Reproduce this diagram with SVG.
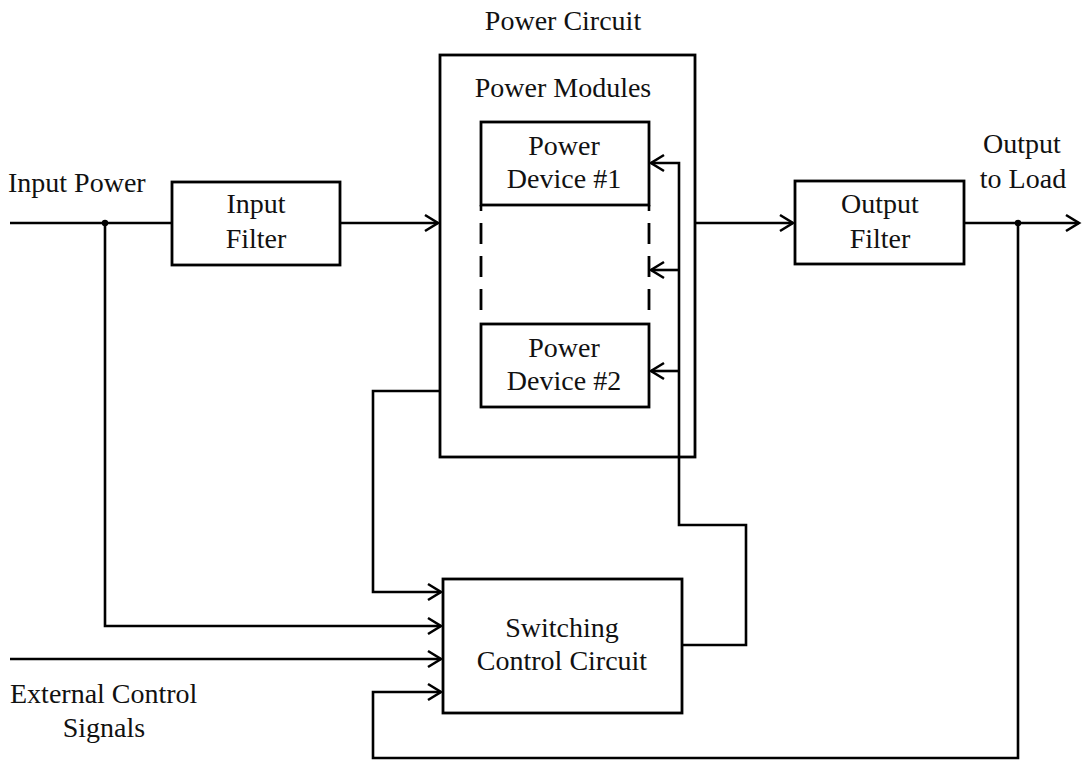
<svg xmlns="http://www.w3.org/2000/svg" width="1082" height="760" viewBox="0 0 1082 760">
<style>
  .box { fill: none; stroke: #000; stroke-width: 2.8; }
  .ln { fill: none; stroke: #000; stroke-width: 2.6; }
  .dash { fill: none; stroke: #000; stroke-width: 2.8; stroke-dasharray: 21 12; }
  .arr { marker-end: url(#chev); }
  text { font-family: "Liberation Serif", "Times New Roman", serif; font-size: 28px; fill: #111; }
  .c { text-anchor: middle; }
</style>
<defs>
  <marker id="chev" markerUnits="userSpaceOnUse" markerWidth="24" markerHeight="24" viewBox="-18 -12 24 24" refX="0" refY="0" orient="auto">
    <path d="M-13,-8 L0,0 L-13,8" fill="none" stroke="#000" stroke-width="2.6"/>
  </marker>
</defs>
<rect width="1082" height="760" fill="#fff"/>

<g id="labels">
  <text x="8" y="192">Input Power</text>
  <text x="10" y="703">External Control</text>
  <text class="c" x="104" y="737">Signals</text>
  <text class="c" x="1022" y="153">Output</text>
  <text class="c" x="1023" y="188">to Load</text>
</g>

<g id="power-circuit">
  <text class="c" x="563" y="30">Power Circuit</text>
  <rect class="box" x="440" y="55" width="255" height="402"/>
  <text class="c" x="563" y="97">Power Modules</text>
</g>

<g id="power-device-1">
  <rect class="box" x="481" y="122" width="168" height="83"/>
  <text class="c" x="564" y="155">Power</text>
  <text class="c" x="564" y="188">Device #1</text>
</g>

<g id="power-device-2">
  <rect class="box" x="481" y="324" width="168" height="83"/>
  <text class="c" x="564" y="357">Power</text>
  <text class="c" x="564" y="390">Device #2</text>
</g>

<g id="dashed-modules">
  <line class="dash" x1="481" y1="223" x2="481" y2="312"/>
  <line class="dash" x1="649" y1="223" x2="649" y2="312"/>
  <line class="ln" x1="481" y1="205" x2="481" y2="211"/>
  <line class="ln" x1="649" y1="205" x2="649" y2="211"/>
</g>

<g id="input-filter">
  <rect class="box" x="172" y="182" width="168" height="83"/>
  <text class="c" x="256" y="213">Input</text>
  <text class="c" x="256" y="248">Filter</text>
</g>

<g id="output-filter">
  <rect class="box" x="795" y="181" width="169" height="83"/>
  <text class="c" x="880" y="213">Output</text>
  <text class="c" x="880" y="248">Filter</text>
</g>

<g id="switching-control">
  <rect class="box" x="443" y="579" width="239" height="134"/>
  <text class="c" x="562" y="637">Switching</text>
  <text class="c" x="562" y="670">Control Circuit</text>
</g>

<g id="connectors">
  <line class="ln" x1="10" y1="223" x2="172" y2="223"/>
  <line class="ln arr" x1="340" y1="223" x2="438" y2="223"/>
  <line class="ln arr" x1="695" y1="223" x2="793" y2="223"/>
  <line class="ln arr" x1="964" y1="223" x2="1079" y2="223"/>
  <circle cx="105" cy="223" r="3.2" fill="#000"/>
  <circle cx="1018" cy="223" r="3.2" fill="#000"/>
  <polyline class="ln arr" points="105,223 105,626 441,626"/>
  <line class="ln arr" x1="10" y1="659" x2="441" y2="659"/>
  <polyline class="ln arr" points="1018,223 1018,758 373,758 373,692 441,692"/>
  <polyline class="ln arr" points="440,391 373,391 373,592 441,592"/>
  <polyline class="ln arr" points="682,645 746,645 746,525 679,525 679,163 651,163"/>
  <line class="ln arr" x1="679" y1="270" x2="651" y2="270"/>
  <line class="ln arr" x1="679" y1="371" x2="651" y2="371"/>
</g>
</svg>
